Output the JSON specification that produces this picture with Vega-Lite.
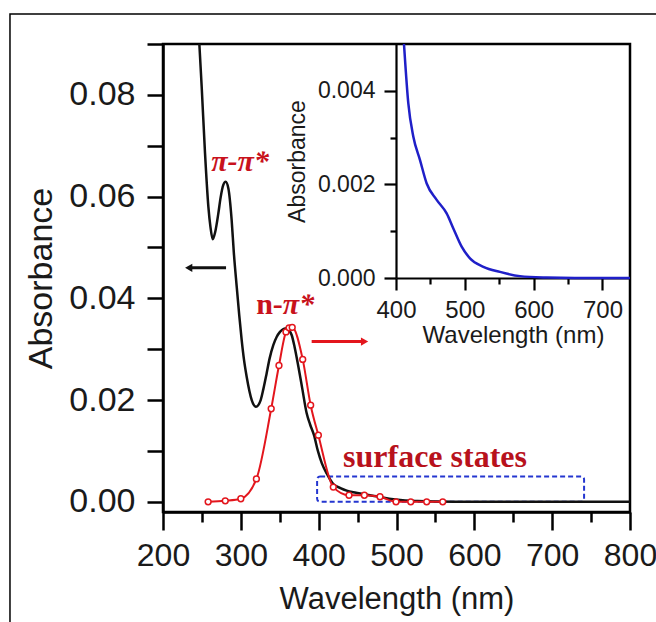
{
  "$schema": "https://vega.github.io/schema/vega-lite/v6.json",
  "width": 467,
  "height": 468,
  "autosize": {"type": "none"},
  "padding": {"left": 163, "top": 44, "right": 26, "bottom": 110},
  "background": "white",
  "config": {
    "view": {"stroke": "#000", "strokeWidth": 2.5},
    "axis": {
      "domainColor": "#000", "domainWidth": 2.5, "tickColor": "#000", "tickWidth": 2.5,
      "labelFont": "Liberation Sans", "titleFont": "Liberation Sans",
      "labelColor": "#1a1a1a", "titleColor": "#1a1a1a", "titleFontWeight": "normal",
      "grid": false, "labelFlush": false, "labelOverlap": false, "labelBound": false
    }
  },
  "datasets": {
    "one": [{}],
    "black": [
      {"nm": 240, "A": 0.105}, {"nm": 246.7, "A": 0.090}, {"nm": 249.7, "A": 0.0816}, {"nm": 254, "A": 0.0685},
      {"nm": 258.3, "A": 0.058}, {"nm": 261, "A": 0.054}, {"nm": 263.9, "A": 0.0516}, {"nm": 267, "A": 0.053},
      {"nm": 271.1, "A": 0.0567}, {"nm": 274, "A": 0.0598}, {"nm": 277.5, "A": 0.0623}, {"nm": 280.5, "A": 0.0629},
      {"nm": 284, "A": 0.0616}, {"nm": 288.2, "A": 0.0554}, {"nm": 291, "A": 0.049}, {"nm": 294.7, "A": 0.0423},
      {"nm": 298, "A": 0.0366}, {"nm": 301.1, "A": 0.0318}, {"nm": 304, "A": 0.028}, {"nm": 307.5, "A": 0.0246},
      {"nm": 311, "A": 0.0218}, {"nm": 314, "A": 0.02}, {"nm": 319.5, "A": 0.0187}, {"nm": 325.5, "A": 0.02},
      {"nm": 329, "A": 0.0222}, {"nm": 333.2, "A": 0.0253}, {"nm": 337, "A": 0.0282}, {"nm": 341.7, "A": 0.0308},
      {"nm": 346, "A": 0.0324}, {"nm": 350.3, "A": 0.0334}, {"nm": 355, "A": 0.034}, {"nm": 359, "A": 0.0341},
      {"nm": 362, "A": 0.0337}, {"nm": 365.3, "A": 0.0328}, {"nm": 369, "A": 0.0305}, {"nm": 373.9, "A": 0.0266},
      {"nm": 379, "A": 0.0222}, {"nm": 384.6, "A": 0.0174}, {"nm": 389, "A": 0.0152}, {"nm": 394, "A": 0.0131},
      {"nm": 399, "A": 0.0100}, {"nm": 404, "A": 0.0076}, {"nm": 410.3, "A": 0.0056}, {"nm": 418.8, "A": 0.0035},
      {"nm": 428, "A": 0.0027}, {"nm": 436, "A": 0.0022}, {"nm": 448, "A": 0.0018}, {"nm": 461.7, "A": 0.0014},
      {"nm": 474, "A": 0.0011}, {"nm": 484, "A": 0.0008}, {"nm": 496, "A": 0.0005}, {"nm": 508, "A": 0.0003},
      {"nm": 527, "A": 0.00015}, {"nm": 551, "A": 0.00006}, {"nm": 580, "A": 0.00002}, {"nm": 620, "A": 0},
      {"nm": 700, "A": 0}, {"nm": 800, "A": 0}
    ],
    "red": [
      {"nm": 258, "A": 0.0}, {"nm": 280, "A": 0.0002}, {"nm": 300, "A": 0.0006}, {"nm": 320, "A": 0.0045},
      {"nm": 339, "A": 0.0183}, {"nm": 349, "A": 0.0268}, {"nm": 358, "A": 0.0334}, {"nm": 362, "A": 0.0342},
      {"nm": 366, "A": 0.0343}, {"nm": 379.5, "A": 0.028}, {"nm": 389.7, "A": 0.019}, {"nm": 399.6, "A": 0.0131},
      {"nm": 418.8, "A": 0.0029}, {"nm": 439, "A": 0.0013}, {"nm": 458.7, "A": 0.0013}, {"nm": 478.8, "A": 0.001},
      {"nm": 499.4, "A": 0.0}, {"nm": 518.3, "A": 0.0}, {"nm": 538.8, "A": 0.0}, {"nm": 559.4, "A": 0.0}
    ],
    "blue": [
      {"nm": 409, "A": 0.0056}, {"nm": 411.6, "A": 0.005}, {"nm": 417.9, "A": 0.00373}, {"nm": 425.2, "A": 0.00302},
      {"nm": 434.9, "A": 0.00252}, {"nm": 444.6, "A": 0.00202}, {"nm": 459.1, "A": 0.00167}, {"nm": 473.6, "A": 0.00138},
      {"nm": 483.3, "A": 0.00106}, {"nm": 495.4, "A": 0.00067}, {"nm": 507.5, "A": 0.00042}, {"nm": 526.9, "A": 0.00024},
      {"nm": 551.1, "A": 0.00013}, {"nm": 580.2, "A": 0.00004}, {"nm": 619, "A": 0.00001}, {"nm": 660, "A": 0},
      {"nm": 740, "A": 0}
    ]
  },
  "layer": [
    {
      "data": {"name": "one"},
      "mark": {"type": "rect", "filled": false, "stroke": "#000", "strokeWidth": 1.5, "clip": false},
      "encoding": {
        "x": {"datum": 3.4, "type": "quantitative", "scale": {"domain": [200, 800], "nice": false, "zero": false}, "axis": null},
        "x2": {"datum": 950},
        "y": {"datum": 0.0959, "type": "quantitative", "scale": {"domain": [-0.002, 0.09], "nice": false, "zero": false}, "axis": null},
        "y2": {"datum": -0.04}
      }
    },
    {
      "data": {"name": "one"},
      "mark": {"type": "rect", "filled": false, "stroke": "#2436d0", "strokeWidth": 2, "strokeDash": [5, 3], "cornerRadius": 3},
      "encoding": {
        "x": {"datum": 398, "type": "quantitative", "scale": {"domain": [200, 800], "nice": false, "zero": false}, "axis": null},
        "x2": {"datum": 741},
        "y": {"datum": 0, "type": "quantitative", "scale": {"domain": [-0.002, 0.09], "nice": false, "zero": false}, "axis": null},
        "y2": {"datum": 0.005}
      }
    },
    {
      "data": {"name": "black"},
      "mark": {"type": "line", "color": "#111", "strokeWidth": 2.5, "interpolate": "monotone", "clip": true},
      "encoding": {
        "x": {"field": "nm", "type": "quantitative", "scale": {"domain": [200, 800], "nice": false, "zero": false},
          "axis": {"title": "Wavelength (nm)", "orient": "bottom",
            "values": [200, 250, 300, 350, 400, 450, 500, 550, 600, 650, 700, 750, 800],
            "labelExpr": "datum.value % 100 === 0 ? datum.label : ''",
            "tickSize": {"condition": {"test": "datum.value % 100 === 0", "value": 18}, "value": 10},
            "labelFontSize": 32, "titleFontSize": 31, "labelPadding": 10, "titlePadding": 13}},
        "y": {"field": "A", "type": "quantitative", "scale": {"domain": [-0.002, 0.09], "nice": false, "zero": false},
          "axis": {"title": "Absorbance", "orient": "left",
            "values": [0, 0.01, 0.02, 0.03, 0.04, 0.05, 0.06, 0.07, 0.08, 0.09],
            "labelExpr": "round(datum.value*100) % 2 === 0 ? format(datum.value, '.2f') : ''",
            "tickSize": 16, "labelFontSize": 34, "titleFontSize": 34, "labelPadding": 12, "titlePadding": 10}}
      }
    },
    {
      "data": {"name": "red"},
      "mark": {"type": "line", "color": "#e3161d", "strokeWidth": 2, "interpolate": "monotone"},
      "encoding": {
        "x": {"field": "nm", "type": "quantitative", "scale": {"domain": [200, 800], "nice": false, "zero": false}, "axis": null},
        "y": {"field": "A", "type": "quantitative", "scale": {"domain": [-0.002, 0.09], "nice": false, "zero": false}, "axis": null}
      }
    },
    {
      "data": {"name": "red"},
      "mark": {"type": "point", "shape": "circle", "filled": true, "fill": "white", "stroke": "#e3161d", "strokeWidth": 1.5, "size": 34, "opacity": 1},
      "encoding": {
        "x": {"field": "nm", "type": "quantitative", "scale": {"domain": [200, 800], "nice": false, "zero": false}, "axis": null},
        "y": {"field": "A", "type": "quantitative", "scale": {"domain": [-0.002, 0.09], "nice": false, "zero": false}, "axis": null}
      }
    },
    {
      "data": {"name": "one"},
      "mark": {"type": "rule", "color": "#111", "strokeWidth": 3},
      "encoding": {
        "x": {"datum": 234, "type": "quantitative", "scale": {"domain": [200, 800], "nice": false, "zero": false}, "axis": null},
        "x2": {"datum": 281},
        "y": {"datum": 0.046, "type": "quantitative", "scale": {"domain": [-0.002, 0.09], "nice": false, "zero": false}, "axis": null}
      }
    },
    {
      "data": {"name": "one"},
      "mark": {"type": "point", "shape": "triangle-left", "filled": true, "color": "#111", "size": 70, "opacity": 1},
      "encoding": {
        "x": {"datum": 233, "type": "quantitative", "scale": {"domain": [200, 800], "nice": false, "zero": false}, "axis": null},
        "y": {"datum": 0.046, "type": "quantitative", "scale": {"domain": [-0.002, 0.09], "nice": false, "zero": false}, "axis": null}
      }
    },
    {
      "data": {"name": "one"},
      "mark": {"type": "rule", "color": "#e3161d", "strokeWidth": 3},
      "encoding": {
        "x": {"datum": 391, "type": "quantitative", "scale": {"domain": [200, 800], "nice": false, "zero": false}, "axis": null},
        "x2": {"datum": 458},
        "y": {"datum": 0.0315, "type": "quantitative", "scale": {"domain": [-0.002, 0.09], "nice": false, "zero": false}, "axis": null}
      }
    },
    {
      "data": {"name": "one"},
      "mark": {"type": "point", "shape": "triangle-right", "filled": true, "color": "#e3161d", "size": 70, "opacity": 1},
      "encoding": {
        "x": {"datum": 459, "type": "quantitative", "scale": {"domain": [200, 800], "nice": false, "zero": false}, "axis": null},
        "y": {"datum": 0.0315, "type": "quantitative", "scale": {"domain": [-0.002, 0.09], "nice": false, "zero": false}, "axis": null}
      }
    },
    {
      "data": {"name": "one"},
      "mark": {"type": "text", "text": "π-π*", "font": "Liberation Serif", "fontSize": 30, "fontWeight": "bold", "fontStyle": "italic", "color": "#c8121c", "align": "center", "baseline": "alphabetic"},
      "encoding": {
        "x": {"datum": 299, "type": "quantitative", "scale": {"domain": [200, 800], "nice": false, "zero": false}, "axis": null},
        "y": {"datum": 0.065, "type": "quantitative", "scale": {"domain": [-0.002, 0.09], "nice": false, "zero": false}, "axis": null}
      }
    },
    {
      "data": {"name": "one"},
      "mark": {"type": "text", "text": "n-", "font": "Liberation Serif", "fontSize": 30, "fontWeight": "bold", "color": "#c8121c", "align": "right", "baseline": "alphabetic"},
      "encoding": {
        "x": {"datum": 354, "type": "quantitative", "scale": {"domain": [200, 800], "nice": false, "zero": false}, "axis": null},
        "y": {"datum": 0.0369, "type": "quantitative", "scale": {"domain": [-0.002, 0.09], "nice": false, "zero": false}, "axis": null}
      }
    },
    {
      "data": {"name": "one"},
      "mark": {"type": "text", "text": "π*", "font": "Liberation Serif", "fontSize": 30, "fontWeight": "bold", "fontStyle": "italic", "color": "#c8121c", "align": "left", "baseline": "alphabetic"},
      "encoding": {
        "x": {"datum": 354, "type": "quantitative", "scale": {"domain": [200, 800], "nice": false, "zero": false}, "axis": null},
        "y": {"datum": 0.0369, "type": "quantitative", "scale": {"domain": [-0.002, 0.09], "nice": false, "zero": false}, "axis": null}
      }
    },
    {
      "data": {"name": "one"},
      "mark": {"type": "text", "text": "surface states", "font": "Liberation Serif", "fontSize": 32, "fontWeight": "bold", "color": "#b8121c", "align": "center", "baseline": "alphabetic"},
      "encoding": {
        "x": {"datum": 549.5, "type": "quantitative", "scale": {"domain": [200, 800], "nice": false, "zero": false}, "axis": null},
        "y": {"datum": 0.00685, "type": "quantitative", "scale": {"domain": [-0.002, 0.09], "nice": false, "zero": false}, "axis": null}
      }
    },
    {
      "data": {"name": "blue"},
      "mark": {"type": "line", "color": "#1f1fc8", "strokeWidth": 2.5, "interpolate": "monotone", "clip": true},
      "encoding": {
        "x": {"field": "nm", "type": "quantitative", "scale": {"domain": [400, 740], "range": [233, 467], "nice": false, "zero": false},
          "axis": {"title": "Wavelength (nm)", "orient": "bottom", "offset": -234,
            "values": [400, 450, 500, 550, 600, 650, 700],
            "labelExpr": "datum.value % 100 === 0 ? datum.label : ''",
            "tickSize": {"condition": {"test": "datum.value % 100 === 0", "value": 12}, "value": 6},
            "labelFontSize": 24, "titleFontSize": 24, "labelPadding": 8, "titlePadding": 1, "domainWidth": 2.2, "tickWidth": 2.2}},
        "y": {"field": "A", "type": "quantitative", "scale": {"domain": [0, 0.005], "range": [234, 0], "nice": false, "zero": false},
          "axis": {"title": "Absorbance", "orient": "left", "offset": -233,
            "values": [0, 0.001, 0.002, 0.003, 0.004],
            "labelExpr": "round(datum.value*1000) % 2 === 0 ? format(datum.value, '.3f') : ''",
            "tickSize": {"condition": {"test": "round(datum.value*1000) % 2 === 0", "value": 12}, "value": 6},
            "labelFontSize": 23, "titleFontSize": 23, "labelPadding": 9, "titlePadding": 8, "domainWidth": 2.2, "tickWidth": 2.2}}
      }
    }
  ],
  "resolve": {
    "scale": {"x": "independent", "y": "independent"},
    "axis": {"x": "independent", "y": "independent"}
  }
}
